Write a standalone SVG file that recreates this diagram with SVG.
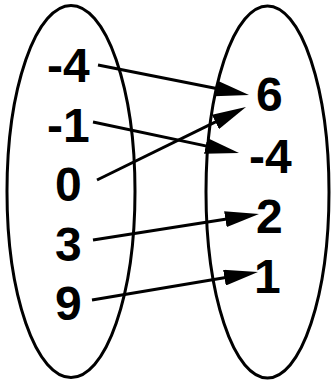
<svg xmlns="http://www.w3.org/2000/svg" width="332" height="386" viewBox="0 0 332 386">
<style>
.set{fill:none;stroke:#000;stroke-width:3}
.lbl{font-family:"Liberation Sans",Arial,sans-serif;font-weight:bold;font-size:48px;fill:#000}
.arr{stroke:#000;stroke-width:3;fill:none;marker-end:url(#ah)}
</style>
<defs>
<marker id="ah" markerUnits="userSpaceOnUse" markerWidth="34" markerHeight="16" viewBox="0 0 34 16" refX="24" refY="8" orient="auto">
<path d="M0,0 L34,8 L0,16 z" fill="#000"/>
</marker>
</defs>
<rect width="332" height="386" fill="#fff"/>
<g id="domain">
<ellipse class="set" cx="71" cy="191.5" rx="64" ry="186"/>
<text class="lbl" x="47" y="82">-4</text>
<text class="lbl" x="47" y="142">-1</text>
<text class="lbl" x="55" y="201">0</text>
<text class="lbl" x="55" y="261">3</text>
<text class="lbl" x="55" y="320">9</text>
</g>
<g id="range">
<ellipse class="set" cx="267.5" cy="192" rx="61.5" ry="186"/>
<text class="lbl" x="256" y="111">6</text>
<text class="lbl" x="249" y="173">-4</text>
<text class="lbl" x="256" y="233">2</text>
<text class="lbl" x="254" y="293">1</text>
</g>
<g id="connectors">
<line class="arr" x1="98" y1="65" x2="239.2" y2="93.05"/>
<line class="arr" x1="93" y1="122" x2="229.2" y2="150.9"/>
<line class="arr" x1="97" y1="180" x2="237" y2="111.4"/>
<line class="arr" x1="93" y1="240" x2="249.1" y2="215.5"/>
<line class="arr" x1="92" y1="300" x2="248.1" y2="273.7"/>
</g>
</svg>
